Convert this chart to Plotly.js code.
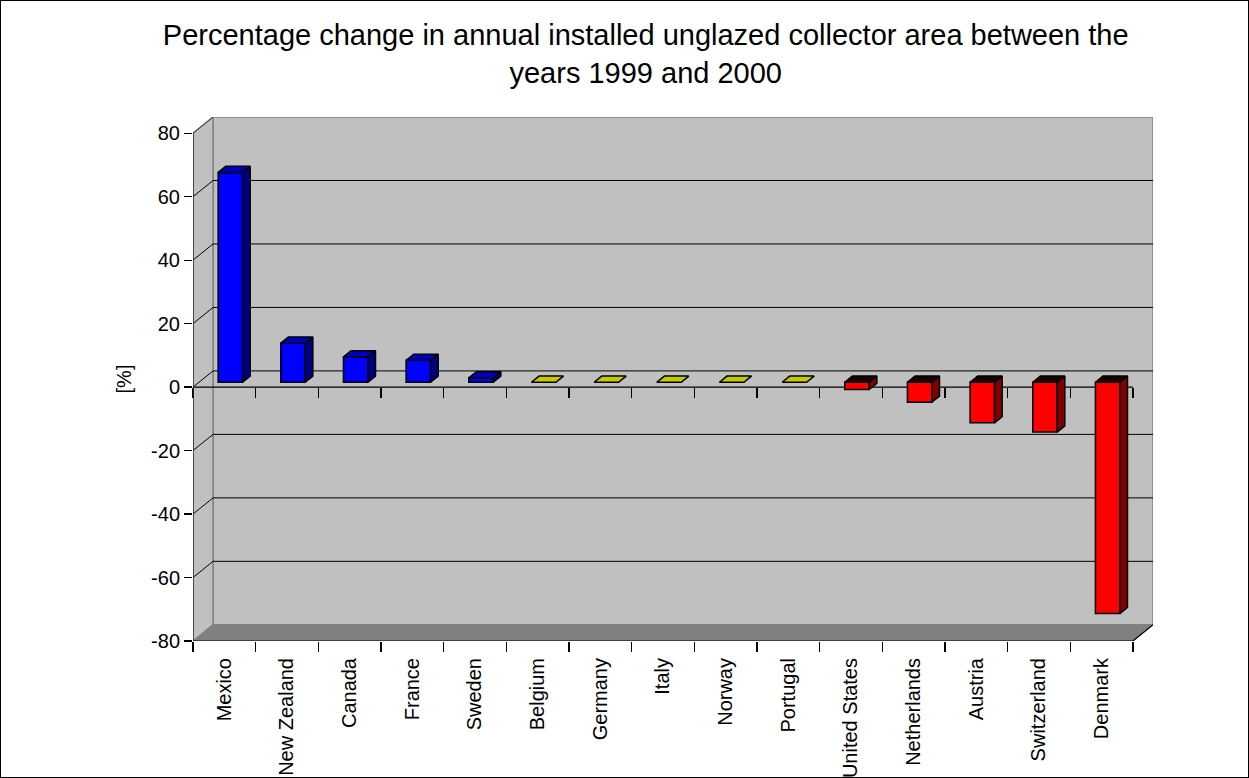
<!DOCTYPE html>
<html>
<head>
<meta charset="utf-8">
<script src="https://cdn.plot.ly/plotly-3.0.1.min.js"></script>
<style>
  html, body { margin: 0; padding: 0; background: #fff; }
  #wrap { position: relative; width: 1249px; height: 778px; }
  #chart { width: 1249px; height: 778px; }
  #frame { position: absolute; left: 0; top: 0; width: 1249px; height: 778px; box-sizing: border-box; border: 1px solid #000; pointer-events: none; }
</style>
</head>
<body>
<div id="wrap"><div id="chart"></div><div id="frame"></div></div>
<script>
// ---- data ----
const categories = ["Mexico", "New Zealand", "Canada", "France", "Sweden", "Belgium", "Germany",
  "Italy", "Norway", "Portugal", "United States", "Netherlands", "Austria", "Switzerland", "Denmark"];
const values = [66.1, 12.3, 8.0, 6.9, 1.4, 0, 0, 0, 0, 0, -2.3, -6.3, -12.8, -15.7, -72.9];
const yTicks = [-80, -60, -40, -20, 0, 20, 40, 60, 80];
const yTickLabels = ["-80", "-60", "-40", "-20", "0", "20", "40", "60", "80"];
const titleText = "Percentage change in annual installed unglazed collector area between the<br>years 1999 and 2000";
const yTitle = "[%]";

// ---- 3D look (style constants) ----
const DXU = 0.32;   // depth offset in category units
const DYU = 5.1;    // depth offset in value units
const F0 = 0.30, F1 = 0.68; // bar depth span (fraction of total depth)
const BW = 0.39;    // bar width in category units
const N = categories.length;
const yMin = yTicks[0], yMax = yTicks[yTicks.length - 1];
const base = F0 * DYU;
const ddx = (F1 - F0) * DXU, ddy = (F1 - F0) * DYU;

const colFront = v => v > 0 ? "#0000ff" : (v < 0 ? "#ff0000" : "#c8c800");
const colSide = v => v > 0 ? "#000080" : "#800000";
const colTop = v => v > 0 ? "#0000c4" : (v < 0 ? "#1a0000" : "#c8c800");

// polygons for side & top faces, grouped by colour
const groups = {};
function addPoly(color, pts) {
  if (!groups[color]) groups[color] = { x: [], y: [] };
  pts.forEach(p => { groups[color].x.push(p[0]); groups[color].y.push(p[1]); });
  groups[color].x.push(pts[0][0]); groups[color].y.push(pts[0][1]);
  groups[color].x.push(null); groups[color].y.push(null);
}
values.forEach((v, i) => {
  const xc = i + F0 * DXU;
  const xl = xc - BW / 2, xr = xc + BW / 2;
  if (v !== 0) {
    addPoly(colSide(v), [[xr, base], [xr, base + v], [xr + ddx, base + v + ddy], [xr + ddx, base + ddy]]);
  }
  const yt = base + Math.max(v, 0);
  addPoly(colTop(v), [[xl, yt], [xr, yt], [xr + ddx, yt + ddy], [xl + ddx, yt + ddy]]);
});

const traces = [];
traces.push({
  type: "bar",
  x: categories.map((c, i) => i + F0 * DXU),
  y: values,
  base: values.map(() => base),
  width: BW,
  marker: { color: values.map(colFront), line: { color: "#000", width: 1.5 } },
  hoverinfo: "skip", showlegend: false
});
Object.keys(groups).forEach(c => {
  traces.push({
    type: "scatter", mode: "lines", x: groups[c].x, y: groups[c].y,
    xaxis: "x2", yaxis: "y",
    fill: "toself", fillcolor: c, line: { color: "#000", width: 1.5 },
    hoverinfo: "skip", showlegend: false
  });
});
// carrier for zero-line tick axis
traces.push({ type: "scatter", mode: "markers", x: [0], y: [null], xaxis: "x3", yaxis: "y", hoverinfo: "skip", showlegend: false });

// ---- walls, grid and axis lines as shapes ----
const L = -0.5, R = N - 0.5;
const shapes = [];
const poly = pts => "M" + pts.map(p => p[0] + "," + p[1]).join("L") + "Z";
shapes.push({ type: "path", layer: "below", path: poly([[L + DXU, yMin + DYU], [R + DXU, yMin + DYU], [R + DXU, yMax + DYU], [L + DXU, yMax + DYU]]),
  fillcolor: "#c0c0c0", line: { color: "#808080", width: 1.5 } });
shapes.push({ type: "path", layer: "below", path: poly([[L, yMin], [L, yMax], [L + DXU, yMax + DYU], [L + DXU, yMin + DYU]]),
  fillcolor: "#c0c0c0", line: { color: "#808080", width: 1.5 } });
shapes.push({ type: "path", layer: "below", path: poly([[L, yMin], [R, yMin], [R + DXU, yMin + DYU], [L + DXU, yMin + DYU]]),
  fillcolor: "#808080", line: { color: "#808080", width: 1 } });
yTicks.forEach(t => {
  if (t === yMin || t === yMax) return;
  shapes.push({ type: "path", layer: "below", path: "M" + L + "," + t + "L" + (L + DXU) + "," + (t + DYU) + "L" + (R + DXU) + "," + (t + DYU),
    line: { color: "#000", width: 1 } });
});
shapes.push({ type: "line", layer: "below", x0: L, y0: yMax, x1: L + DXU, y1: yMax + DYU, line: { color: "#404040", width: 1 } });
shapes.push({ type: "line", layer: "below", x0: L, y0: yMin, x1: L + DXU, y1: yMin + DYU, line: { color: "#808080", width: 1 } });
// front axis lines
shapes.push({ type: "line", layer: "above", x0: L, y0: yMin, x1: L, y1: yMax, line: { color: "#303030", width: 1.5 } });
shapes.push({ type: "line", layer: "below", x0: L, y0: 0, x1: R, y1: 0, line: { color: "#000", width: 1.2 } });
shapes.push({ type: "line", layer: "above", x0: L, y0: yMin, x1: R, y1: yMin, line: { color: "#000", width: 1.2 } });
shapes.push({ type: "line", layer: "above", x0: R, y0: yMin, x1: R + DXU, y1: yMin + DYU, line: { color: "#000", width: 1.2 } });

const boundaries = categories.map((c, i) => i - 0.5).concat([N - 0.5]);
const font = { family: "Arial, 'Liberation Sans', sans-serif", color: "#000" };
const xr = [L, R + DXU];
const yr = [yMin, yMax + DYU];

const layout = {
  width: 1249, height: 778,
  margin: { l: 193, r: 96, t: 117, b: 137 },
  paper_bgcolor: "#fff", plot_bgcolor: "rgba(0,0,0,0)",
  hovermode: false, showlegend: false, barmode: "overlay",
  font: font,
  title: { text: titleText, font: Object.assign({}, font, { size: 29 }), x: 0.517, xref: "container", xanchor: "center",
    y: 0.942, yref: "container", yanchor: "top" },
  xaxis: { type: "linear", range: xr, tickvals: categories.map((c, i) => i), ticktext: categories,
    tickangle: -90, ticks: "outside", ticklen: 8, tickcolor: "rgba(0,0,0,0)",
    tickfont: Object.assign({}, font, { size: 20 }),
    showgrid: false, zeroline: false, showline: false, fixedrange: true },
  xaxis2: { type: "linear", overlaying: "x", anchor: "y", side: "bottom", range: xr, tickvals: boundaries,
    ticks: "outside", ticklen: 10, tickwidth: 1.2, tickcolor: "#000", showticklabels: false,
    showgrid: false, zeroline: false, showline: false, fixedrange: true },
  xaxis3: { type: "linear", overlaying: "x", anchor: "free", position: (0 - yr[0]) / (yr[1] - yr[0]), side: "bottom",
    range: xr, tickvals: boundaries, ticks: "outside", ticklen: 10, tickwidth: 1.2, tickcolor: "#000",
    showticklabels: false, showgrid: false, zeroline: false, showline: false, fixedrange: true },
  yaxis: { type: "linear", range: yr, tickvals: yTicks, ticktext: yTickLabels, ticks: "outside", ticklen: 8, tickwidth: 1.2, tickcolor: "#000",
    tickfont: Object.assign({}, font, { size: 20 }),
    title: { text: yTitle, font: Object.assign({}, font, { size: 20 }), standoff: 14 },
    showgrid: false, zeroline: false, showline: false, fixedrange: true },
  shapes: shapes
};

Plotly.newPlot("chart", traces, layout, { staticPlot: true, displayModeBar: false });
</script>
</body>
</html>
